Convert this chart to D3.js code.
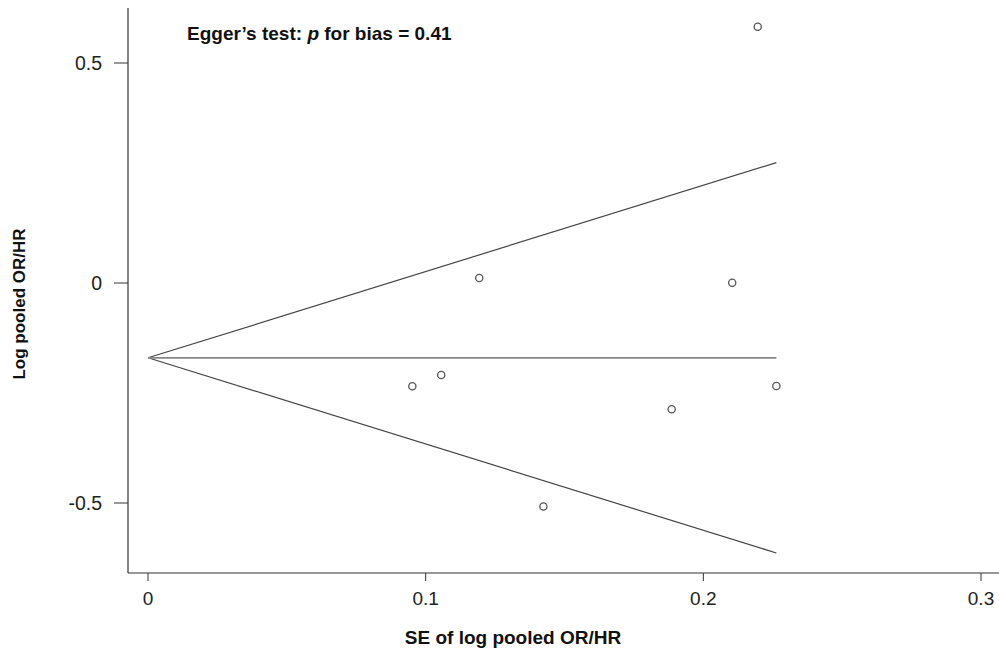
<!DOCTYPE html>
<html><head><meta charset="utf-8">
<script src="https://cdn.jsdelivr.net/npm/d3@7"></script>
<style>body{margin:0;background:#fff}svg{display:block}</style>
</head><body>
<svg id="c" width="999" height="665"></svg>
<script>
// Data
const studySE = [0.2196, 0.1193, 0.2104, 0.0952, 0.1056, 0.2263, 0.1886, 0.1424];
const studyLogES = [0.5825, 0.0114, 0.0007, -0.2348, -0.209, -0.234, -0.287, -0.508];
const pooledLogES = -0.170;
const maxSE = 0.2263;
const xTicks = [0, 0.1, 0.2, 0.3];
const xTickLabels = ["0", "0.1", "0.2", "0.3"];
const yTicks = [0.5, 0, -0.5];
const yTickLabels = ["0.5", "0", "-0.5"];
const eggerP = "0.41";

const svg = d3.select("#c");
const x = d3.scaleLinear().domain([0, 0.3]).range([148, 981]);
const y = d3.scaleLinear().domain([-0.5, 0.5]).range([503, 63]);
const axisX = 573, axisY = 128;
const font = "'Liberation Sans', Arial, sans-serif";

// axes lines
svg.append("line").attr("x1", axisY).attr("x2", 999).attr("y1", axisX).attr("y2", axisX)
  .attr("stroke", "#333").attr("stroke-width", 1.2);
svg.append("line").attr("x1", axisY).attr("x2", axisY).attr("y1", 8).attr("y2", axisX)
  .attr("stroke", "#333").attr("stroke-width", 1.2);

// x ticks
xTicks.forEach((t, i) => {
  svg.append("line").attr("x1", x(t)).attr("x2", x(t)).attr("y1", axisX).attr("y2", axisX + 8)
    .attr("stroke", "#333").attr("stroke-width", 1);
  svg.append("text").attr("x", x(t)).attr("y", 605).attr("text-anchor", "middle")
    .attr("font-family", font).attr("font-size", 19).attr("fill", "#222").text(xTickLabels[i]);
});
// y ticks
yTicks.forEach((t, i) => {
  svg.append("line").attr("x1", axisY - 14).attr("x2", axisY).attr("y1", y(t)).attr("y2", y(t))
    .attr("stroke", "#333").attr("stroke-width", 1);
  svg.append("text").attr("x", 102).attr("y", y(t) + 7).attr("text-anchor", "end")
    .attr("font-family", font).attr("font-size", 19.5).attr("fill", "#222").text(yTickLabels[i]);
});

// axis titles
svg.append("text").attr("x", 513).attr("y", 644).attr("text-anchor", "middle")
  .attr("font-family", font).attr("font-weight", "bold").attr("font-size", 19)
  .attr("fill", "#111").text("SE of log pooled OR/HR");
svg.append("text").attr("transform", "translate(25,304) rotate(-90)").attr("text-anchor", "middle")
  .attr("font-family", font).attr("font-weight", "bold").attr("font-size", 17)
  .attr("fill", "#111").text("Log pooled OR/HR");

// Egger annotation
const eg = svg.append("text").attr("x", 187).attr("y", 40)
  .attr("font-family", font).attr("font-weight", "bold").attr("font-size", 19).attr("fill", "#111");
eg.append("tspan").text("Egger\u2019s test: ");
eg.append("tspan").attr("font-style", "italic").text("p");
eg.append("tspan").text(" for bias = " + eggerP);

// funnel
const seRange = [0, maxSE];
const line = d3.line().x(d => x(d[0])).y(d => y(d[1]));
svg.append("path").attr("d", line(seRange.map(s => [s, pooledLogES + 1.96 * s])))
  .attr("fill", "none").attr("stroke", "#444").attr("stroke-width", 1.2);
svg.append("path").attr("d", line(seRange.map(s => [s, pooledLogES - 1.96 * s])))
  .attr("fill", "none").attr("stroke", "#444").attr("stroke-width", 1.2);
svg.append("path").attr("d", line(seRange.map(s => [s, pooledLogES])))
  .attr("fill", "none").attr("stroke", "#888").attr("stroke-width", 1.8);

// points
svg.selectAll("circle.pt").data(studySE.map((s, i) => [s, studyLogES[i]])).join("circle")
  .attr("class", "pt").attr("cx", d => x(d[0])).attr("cy", d => y(d[1])).attr("r", 3.6)
  .attr("fill", "none").attr("stroke", "#555").attr("stroke-width", 1.3);
</script>
</body></html>
